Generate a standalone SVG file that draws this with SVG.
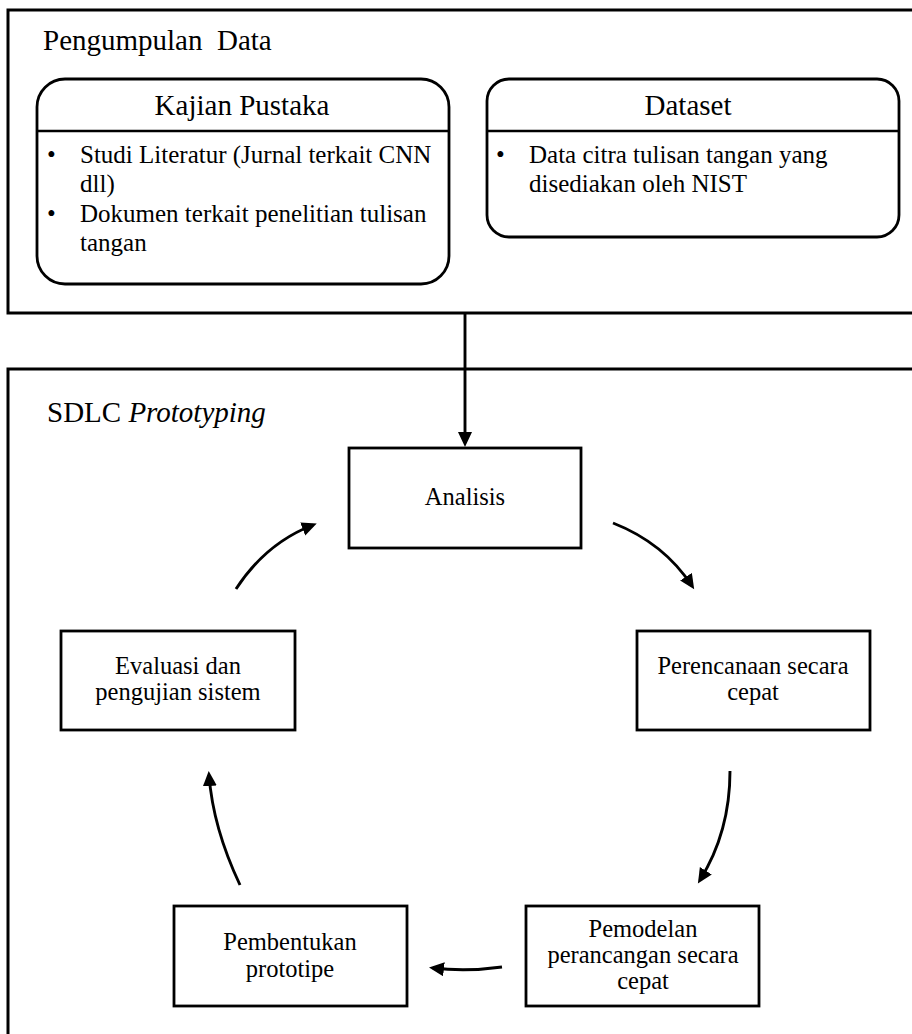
<svg xmlns="http://www.w3.org/2000/svg" width="912" height="1034" viewBox="0 0 912 1034">
<style>
  .frame{fill:#fff;stroke:#000;stroke-width:3}
  .box{fill:#fff;stroke:#000;stroke-width:2.8}
  .div{stroke:#000;stroke-width:2.5}
  .t{font-family:"Liberation Serif","Times New Roman",serif;fill:#000}
  .title{font-size:29px}
  .bul{font-size:25px}
  .node{font-size:24.5px;text-anchor:middle}
  .con{fill:none;stroke:#000;stroke-width:2.9}
</style>
<defs>
  <marker id="ah" markerUnits="userSpaceOnUse" markerWidth="16" markerHeight="16" refX="11" refY="7" orient="auto">
    <path d="M0,0 L15,7 L0,14 Z" fill="#000"/>
  </marker>
</defs>
<rect width="912" height="1034" fill="#fff"/>

<g id="pengumpulan-data">
  <rect class="frame" x="8" y="10" width="930" height="303"/>
  <text class="t title" x="43" y="50" xml:space="preserve">Pengumpulan  Data</text>
</g>

<g id="kajian-pustaka">
  <rect class="box" x="37" y="79" width="412" height="205" rx="28" ry="28"/>
  <line class="div" x1="37" y1="131" x2="449" y2="131"/>
  <text class="t title" x="242" y="115" text-anchor="middle">Kajian Pustaka</text>
  <text class="t bul" x="47" y="163">•</text>
  <text class="t bul" x="80" y="163">Studi Literatur (Jurnal terkait CNN</text>
  <text class="t bul" x="80" y="192">dll)</text>
  <text class="t bul" x="47" y="222">•</text>
  <text class="t bul" x="80" y="222">Dokumen terkait penelitian tulisan</text>
  <text class="t bul" x="80" y="251">tangan</text>
</g>

<g id="dataset">
  <rect class="box" x="487" y="79" width="412" height="158" rx="22" ry="22"/>
  <line class="div" x1="487" y1="131" x2="899" y2="131"/>
  <text class="t title" x="688" y="115" text-anchor="middle">Dataset</text>
  <text class="t bul" x="496" y="163">•</text>
  <text class="t bul" x="529" y="163">Data citra tulisan tangan yang</text>
  <text class="t bul" x="529" y="192">disediakan oleh NIST</text>
</g>

<g id="sdlc-prototyping">
  <rect class="frame" x="8" y="369" width="930" height="700"/>
  <text class="t title" x="47" y="422">SDLC <tspan font-style="italic">Prototyping</tspan></text>
</g>

<g id="analisis">
  <rect class="box" x="349" y="448" width="232" height="100"/>
  <text class="t node" x="465" y="505">Analisis</text>
</g>

<g id="perencanaan">
  <rect class="box" x="637" y="631" width="233" height="99"/>
  <text class="t node" x="753" y="674">Perencanaan secara</text>
  <text class="t node" x="753" y="700">cepat</text>
</g>

<g id="pemodelan">
  <rect class="box" x="526" y="906" width="233" height="100"/>
  <text class="t node" x="643" y="937">Pemodelan</text>
  <text class="t node" x="643" y="963">perancangan secara</text>
  <text class="t node" x="643" y="989">cepat</text>
</g>

<g id="pembentukan">
  <rect class="box" x="174" y="906" width="233" height="100"/>
  <text class="t node" x="290" y="950">Pembentukan</text>
  <text class="t node" x="290" y="977">prototipe</text>
</g>

<g id="evaluasi">
  <rect class="box" x="61" y="631" width="234" height="99"/>
  <text class="t node" x="178" y="674">Evaluasi dan</text>
  <text class="t node" x="178" y="700">pengujian sistem</text>
</g>

<g id="connectors">
  <line class="con" x1="465" y1="313" x2="465" y2="443" stroke-width="2.2" marker-end="url(#ah)"/>
  <path class="con" d="M613,523 Q664,543 692,586" marker-end="url(#ah)"/>
  <path class="con" d="M730,771 Q730,832 700,880" marker-end="url(#ah)"/>
  <path class="con" d="M502,967 Q466,972 433,968" marker-end="url(#ah)"/>
  <path class="con" d="M240,885 Q213,828 209,775" marker-end="url(#ah)"/>
  <path class="con" d="M236,589 Q266,543 313,525" marker-end="url(#ah)"/>
</g>
</svg>
